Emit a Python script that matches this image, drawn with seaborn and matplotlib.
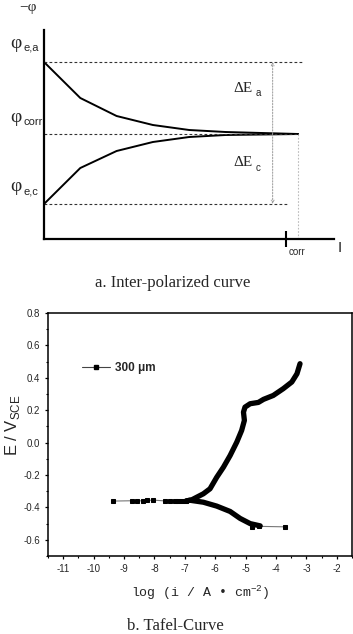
import numpy as np
import pandas as pd
import matplotlib
matplotlib.use("Agg")
import matplotlib.pyplot as plt
from matplotlib.lines import Line2D
from matplotlib.ticker import MultipleLocator
import seaborn as sns

sns.set_theme(style="white")
plt.rcParams["font.family"] = ["Liberation Sans", "DejaVu Sans"]
plt.rcParams["axes.unicode_minus"] = False
plt.rcParams["mathtext.fontset"] = "custom"
plt.rcParams["mathtext.rm"] = "Liberation Mono"

# ---------------- Panel a data (schematic) ----------------
steps = [0, 1, 2, 3, 4, 5, 6, 7]
anodic_pol = [17.7, 14.1, 12.3, 11.4, 10.9, 10.7, 10.6, 10.5]
cathodic_pol = [3.5, 7.1, 8.8, 9.7, 10.2, 10.4, 10.45, 10.5]
phi_ea, phi_corr, phi_ec = 17.7, 10.5, 3.5
i_corr = 6.67

# ---------------- Panel b data (Tafel) ----------------
anod_x = [-6.95, -6.77, -6.39, -6.17, -5.95, -5.73, -5.51, -5.29, -5.13, -5.04,
          -5.07, -5.02, -4.85, -4.58, -4.41, -4.09, -3.76, -3.48, -3.31, -3.21]
anod_y = [-0.360, -0.353, -0.316, -0.285, -0.214, -0.152, -0.080, 0.003, 0.075, 0.137,
          0.188, 0.219, 0.240, 0.248, 0.267, 0.291, 0.333, 0.374, 0.425, 0.487]
cath_x = [-6.95, -6.83, -6.39, -5.95, -5.51, -5.18, -4.85, -4.52]
cath_y = [-0.360, -0.356, -0.368, -0.392, -0.425, -0.468, -0.500, -0.514]
tail_left_x = [-9.37, -8.75, -8.56, -8.37, -8.23, -8.04, -7.65, -7.49, -7.32, -7.21, -7.10, -6.95]
tail_left_y = [-0.361, -0.359, -0.360, -0.359, -0.357, -0.355, -0.360, -0.360, -0.360, -0.360, -0.360, -0.360]
tail_right_x = [-4.80, -4.55, -3.70]
tail_right_y = [-0.520, -0.517, -0.520]
legend_label = "300 μm"

W, H = 353, 634
fig = plt.figure(figsize=(W / 100, H / 100), dpi=100)


def fx(x):
    return x / W


def fy(y):
    return 1 - y / H


# ================= Panel a =================
axa = fig.add_axes([fx(44), fy(239), 290 / W, 209 / H])
axa.set_xlim(0, 7.99)
axa.set_ylim(0, 20.9)
axa.set_facecolor("white")

sns.lineplot(x=steps, y=anodic_pol, ax=axa, color="black", lw=1.4)
sns.lineplot(x=steps, y=cathodic_pol, ax=axa, color="black", lw=1.4)

dash = (0, (2.5, 2))
axa.plot([0, 7.1], [phi_ea, phi_ea], ls=dash, color="#333333", lw=0.8)
axa.plot([0, 7.0], [phi_corr, phi_corr], ls=dash, color="#333333", lw=0.8)
axa.plot([0, 6.72], [phi_ec, phi_ec], ls=dash, color="#333333", lw=0.8)
axa.plot([7.0, 7.0], [0, phi_corr], ls=(0, (1.5, 1.5)), color="#bbbbbb", lw=0.8)

for y0, y1 in [(phi_corr, phi_ea), (phi_corr, phi_ec)]:
    axa.annotate("", xy=(6.3, y1), xytext=(6.3, y0),
                 arrowprops=dict(arrowstyle="->", color="#999999", lw=0.7,
                                 ls=(0, (1.5, 1.5)), shrinkA=0, shrinkB=0,
                                 mutation_scale=5))

for s in ["top", "right"]:
    axa.spines[s].set_visible(False)
for s in ["left", "bottom"]:
    axa.spines[s].set_color("black")
    axa.spines[s].set_linewidth(1.6)
axa.set_yticks([])
axa.set_xticks([i_corr])
axa.set_xticklabels([""])
axa.tick_params(axis="x", bottom=True, direction="inout", length=12, width=1.5, color="black")

serif = ["Liberation Serif", "DejaVu Serif"]
fig.text(fx(28), fy(8), "−φ", fontsize=11, family=serif, ha="center", va="center")
fig.text(fx(10), fy(43), "φ", fontsize=14, family=serif, ha="left", va="center")
fig.text(fx(23), fy(47), "e,a", fontsize=8, ha="left", va="center")
fig.text(fx(10), fy(118), "φ", fontsize=14, family=serif, ha="left", va="center")
fig.text(fx(23), fy(122), "corr", fontsize=8, ha="left", va="center")
fig.text(fx(10), fy(187), "φ", fontsize=14, family=serif, ha="left", va="center")
fig.text(fx(23), fy(192), "e,c", fontsize=8, ha="left", va="center")
fig.text(fx(233), fy(88), "ΔE", fontsize=11, family=serif, ha="left", va="center")
fig.text(fx(256), fy(93), "a", fontsize=7, ha="left", va="center")
fig.text(fx(233), fy(163), "ΔE", fontsize=11, family=serif, ha="left", va="center")
fig.text(fx(256), fy(168), "c", fontsize=7, ha="left", va="center")
fig.text(fx(289), fy(252), "corr", fontsize=7, ha="left", va="center")
fig.text(fx(340), fy(248), "I", fontsize=11, ha="center", va="center")
fig.text(fx(173), fy(283), "a. Inter-polarized curve", fontsize=12, family=serif,
         ha="center", va="center")

# ================= Panel b =================
axb = fig.add_axes([fx(48), fy(556), 304 / W, 243 / H])
axb.set_xlim(-11.5, -1.5)
axb.set_ylim(-0.7, 0.8)
axb.set_facecolor("white")

thin = dict(color="#777777", lw=0.8, marker="s", markersize=2.8,
            markerfacecolor="black", markeredgecolor="black", sort=False)
sns.lineplot(x=tail_left_x, y=tail_left_y, ax=axb, **thin)
sns.lineplot(x=tail_right_x, y=tail_right_y, ax=axb, **thin)
thick = dict(color="black", lw=3.8, sort=False, solid_capstyle="round", solid_joinstyle="round")
sns.lineplot(x=cath_x, y=cath_y, ax=axb, **thick)
sns.lineplot(x=anod_x, y=anod_y, ax=axb, **thick)

for s in axb.spines.values():
    s.set_color("black")
    s.set_linewidth(1.1)
axb.set_xticks(np.arange(-11, -1, 1))
axb.set_xticklabels([str(v) for v in range(-11, -1)])
axb.set_yticks(np.round(np.arange(-0.6, 0.81, 0.2), 1))
axb.set_yticklabels(["%.1f" % v for v in np.round(np.arange(-0.6, 0.81, 0.2), 1)])
axb.xaxis.set_minor_locator(MultipleLocator(0.5))
axb.yaxis.set_minor_locator(MultipleLocator(0.1))
axb.tick_params(which="both", bottom=True, left=True, top=False, right=False,
                direction="out", color="black")
axb.tick_params(which="major", length=2.5, width=0.9, labelsize=7, pad=3.2)
axb.tick_params(which="minor", length=1.5, width=0.8)
axb.set_xlabel("")
axb.set_ylabel("")

handle = Line2D([], [], color="#444444", lw=0.8, marker="s", markersize=2.8,
                markerfacecolor="black", markeredgecolor="black")
axb.legend([handle], [legend_label], loc="center left", bbox_to_anchor=(0.113, 0.774),
           frameon=False, borderpad=0, borderaxespad=0, handlelength=2.3,
           handletextpad=0.45, numpoints=1, prop=dict(size=8.5, weight="bold"))

fig.text(fx(12), fy(425), r"E / V$_{\mathregular{SCE}}$", fontsize=12, rotation=90,
         ha="center", va="center")
fig.text(fx(200), fy(593), r"log (i / A • cm$^{\mathregular{-2}}$)", fontsize=9.5,
         family=["Liberation Mono", "DejaVu Sans Mono"], ha="center", va="center")
fig.text(fx(175), fy(626), "b. Tafel-Curve", fontsize=12, family=serif,
         ha="center", va="center")

fig.savefig("out.png", dpi=100, facecolor="white")
